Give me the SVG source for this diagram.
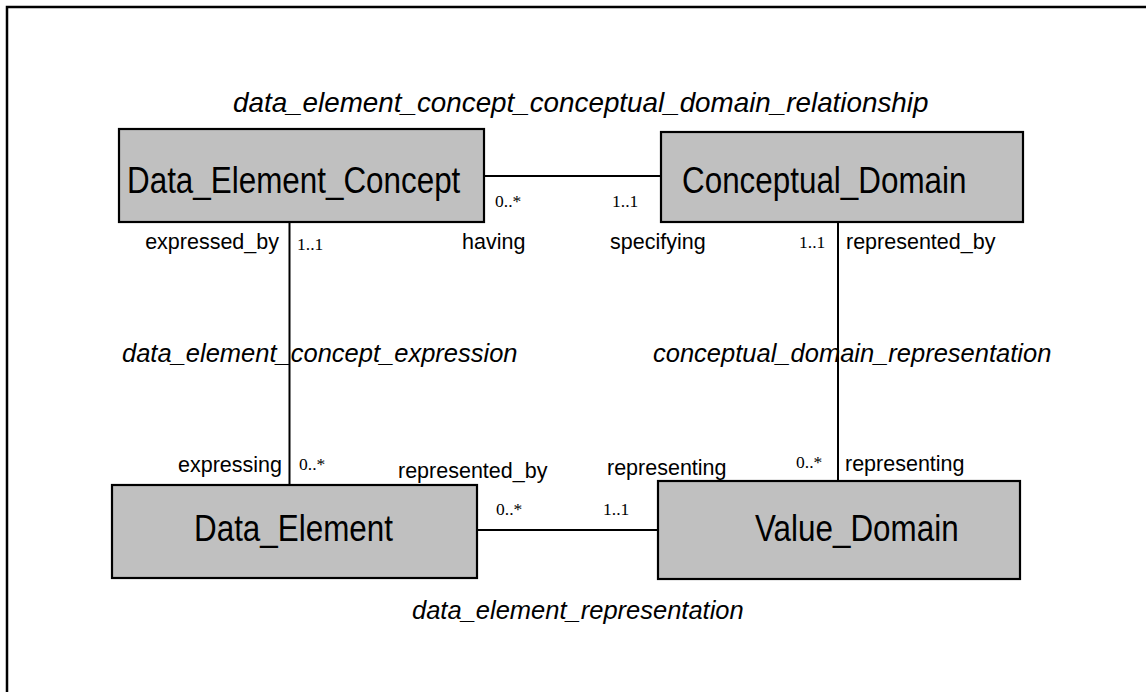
<svg xmlns="http://www.w3.org/2000/svg" width="1146" height="692" viewBox="0 0 1146 692">
<style>
.box{fill:#c0c0c0;stroke:#000;stroke-width:2.2}
.name{font-family:"Liberation Sans",Arial,sans-serif;font-size:31.4px;fill:#000}
.lbl{font-family:"Liberation Sans",Arial,sans-serif;font-size:21.5px;fill:#000}
.rel{font-family:"Liberation Sans",Arial,sans-serif;font-size:25.5px;font-style:italic;fill:#000}
.mul{font-family:"Liberation Serif","Times New Roman",serif;font-size:17.5px;fill:#000}
.con{stroke:#000;stroke-width:2;fill:none}
</style>
<rect width="1146" height="692" fill="#fff"/>
<path d="M7,692 V7 H1146" fill="none" stroke="#000" stroke-width="2.5"/>
<g id="connectors">
<line class="con" x1="484" y1="176" x2="661" y2="176"/>
<line class="con" x1="289.5" y1="222" x2="289.5" y2="485"/>
<line class="con" x1="838" y1="222" x2="838" y2="481"/>
<line class="con" x1="477" y1="530" x2="658" y2="530"/>
</g>
<g id="labels">
<text class="rel" x="233" y="112" style="font-size:27.8px">data_element_concept_conceptual_domain_relationship</text>
<text class="rel" x="122" y="362">data_element_concept_expression</text>
<text class="rel" x="653" y="362">conceptual_domain_representation</text>
<text class="rel" x="412" y="619">data_element_representation</text>
<text class="mul" x="495" y="207">0..*</text>
<text class="mul" x="612" y="207">1..1</text>
<text class="lbl" x="279" y="249" text-anchor="end">expressed_by</text>
<text class="mul" x="297" y="250">1..1</text>
<text class="lbl" x="462" y="249">having</text>
<text class="lbl" x="610" y="249">specifying</text>
<text class="mul" x="799" y="248">1..1</text>
<text class="lbl" x="846" y="249">represented_by</text>
<text class="lbl" x="282" y="472" text-anchor="end">expressing</text>
<text class="mul" x="299" y="470">0..*</text>
<text class="lbl" x="398" y="478">represented_by</text>
<text class="lbl" x="607" y="475">representing</text>
<text class="mul" x="796" y="468">0..*</text>
<text class="lbl" x="845" y="471">representing</text>
<text class="mul" x="496" y="515">0..*</text>
<text class="mul" x="603" y="515">1..1</text>
</g>
<g id="Data_Element_Concept">
<rect class="box" x="119" y="129" width="365" height="93"/>
<text class="name" transform="translate(127,193) scale(1,1.15)">Data_Element_Concept</text>
</g>
<g id="Conceptual_Domain">
<rect class="box" x="661" y="132" width="362" height="90"/>
<text class="name" transform="translate(682,193) scale(1,1.15)">Conceptual_Domain</text>
</g>
<g id="Data_Element">
<rect class="box" x="112" y="485" width="365" height="93"/>
<text class="name" transform="translate(194,541) scale(1,1.15)">Data_Element</text>
</g>
<g id="Value_Domain">
<rect class="box" x="658" y="481" width="362" height="98"/>
<text class="name" transform="translate(755,541) scale(1,1.15)">Value_Domain</text>
</g>
</svg>
